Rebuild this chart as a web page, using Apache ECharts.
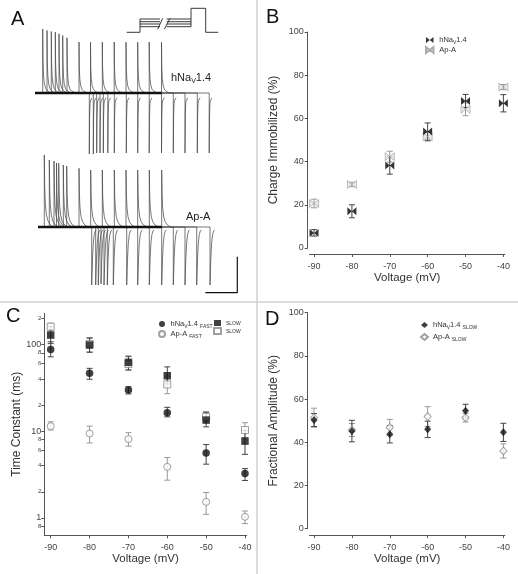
<!DOCTYPE html>
<html><head><meta charset="utf-8">
<script src="https://cdn.jsdelivr.net/npm/echarts@6/dist/echarts.min.js"></script>
<style>html,body{margin:0;padding:0;background:#fff}#c{width:518px;height:574px}</style>
</head><body><div id="c"></div>
<script>
// ---------------- DATA ----------------
// Panel A: gating-current traces (time units from trace start, current units; baseline = 0)
const navOnTimes  = [7.7, 12, 16.3, 20.3, 24, 27.7, 32, 44, 55.5, 67.3, 79.2, 91, 102.7, 114.2, 126.5];
const navOnPeaks  = [64, 62.5, 61.5, 60.8, 59.2, 57.5, 55.2, 51, 50.8, 50.8, 51, 50.8, 50.8, 51, 50.8];
const navOffTimes = [54.3, 58.3, 61.7, 65, 68.3, 72.8, 79.3, 91.3, 102.7, 114.2, 126.5, 138.3, 150, 162.3, 174.2];
const navOffPeaks = [-61, -61, -60, -60, -60, -60, -60, -60, -60, -60, -60, -60, -60, -60, -60];
const apaOnTimes  = [9.3, 14.3, 19, 21.5, 23.7, 28.3, 31.7, 44, 55.7, 67.3, 79.3, 91, 102.7, 114.3, 126.7];
const apaOnPeaks  = [72, 67, 66, 64, 63.7, 62, 61, 58.7, 57, 57, 57, 57, 57, 57, 57];
const apaOffTimes = [56.7, 60.7, 63.3, 66, 69, 72.3, 78.3, 91.7, 102.7, 114.3, 126.7, 138.3, 150, 161.7, 175];
const apaOffPeaks = [-58, -58, -58, -57, -58, -58, -58, -58, -58, -58, -58, -58, -58, -58, -58];
// decay shapes: [time after edge, fraction of peak]
const navOnShape  = [[0,1],[0.3,0.5],[0.8,0.28],[1.6,0.15],[3,0.07],[5,0.03],[8,0]];
const navOffShape = [[0,1],[0.3,0.4],[0.7,0.18],[1.1,0.13],[1.7,0.12],[2.7,0.08]];
const apaOnShape  = [[0,1],[0.4,0.55],[1,0.33],[2,0.18],[3.5,0.09],[6,0.03],[9,0]];
const apaOffShape = [[0,1],[0.8,0.55],[1.6,0.28],[2.6,0.13],[3.6,0.07],[4.6,0.05]];
const navTraceStart = 0, apaTraceStart = 3;
const scaleBarTime = 32, scaleBarCurrent = 36;
// voltage protocol inset
const protoHold = 0, protoPreLevels = [13.3, 10.6, 8.3, 5.6], protoTest = 24;
const protoTimes = [0, 13.3, 33.3, 40, 64.3, 79, 91.6];

// Panels B-D
const voltages = [-90, -80, -70, -60, -50, -40];
const voltTicks = [-90, -80, -70, -60, -50, -40];
// B: charge immobilized (%)
const chargeNav = [7.0, 17.0, 38.2, 53.9, 68.1, 67.0];
const chargeNavErr = [1.5, 3.0, 4.0, 4.0, 3.0, 4.0];
const chargeApA = [20.6, 29.4, 42.3, 51.5, 64.2, 74.5];
const chargeApAErr = [2.0, 1.0, 2.5, 2.0, 3.0, 1.2];
// C: time constants (ms)
const tauFastNav = [87.5, 46.3, 29.7, 16.3, 5.6, 3.25];
const tauFastNavLo = [71.8, 39.6, 26.8, 14.6, 4.16, 2.7];
const tauFastNavHi = [107, 52.9, 32.5, 18.8, 7.0, 3.7];
const tauFastApA = [11.4, 9.4, 8.1, 3.88, 1.53, 1.03];
const tauFastApALo = [10.3, 7.3, 6.7, 2.72, 1.1, 0.86];
const tauFastApAHi = [12.8, 11.4, 9.6, 4.97, 1.96, 1.2];
const tauSlowNav = [128, 98.2, 62, 43.5, 13.4, 7.67];
const tauSlowNavLo = [102, 81, 50.6, 35, 11.2, 5.4];
const tauSlowNavHi = [160, 119, 73.2, 55, 16.5, 10.2];
const tauSlowApA = [160, 101, 59.3, 34.5, 14.6, 10.3];
const tauSlowApALo = [144, 82, 50.6, 27, 12.8, 8.4];
const tauSlowApAHi = [175, 117, 72, 43, 16.7, 12.5];
const tauTickValues = [0.8, 1, 2, 4, 6, 8, 10, 20, 40, 60, 80, 100, 200];
const tauLabelText = ['8', '1', '2', '4', '6', '8', '10', '2', '4', '6', '8', '100', '2'];
const tauMajor = [1, 10, 100];
// D: fractional amplitude (%)
const ampNav = [50.3, 45.2, 43.7, 46.0, 54.6, 44.6];
const ampNavErr = [3.0, 5.0, 4.0, 3.8, 3.0, 4.2];
const ampApA = [51.4, 45.7, 46.9, 51.9, 51.4, 36.0];
const ampApAErr = [4.4, 3.0, 3.7, 4.6, 2.0, 3.3];

// ---------------- BUILD ----------------
const font = 'Liberation Sans, Arial, Helvetica, sans-serif';
const chart = echarts.init(document.getElementById('c'), null, {renderer: 'canvas'});

function buildTrace(start, on, onPeak, onShape, off, offPeak, offShape) {
  const pts = [[start, 0], [on, 0]];
  onShape.forEach(([dt, f]) => pts.push([on + dt, onPeak * f]));
  pts.push([off, 0]);
  offShape.forEach(([dt, f]) => pts.push([off + dt, offPeak * f]));
  return pts;
}
const series = [];
function traceSeries(axis, start, onT, onP, onS, offT, offP, offS) {
  onT.forEach((t, i) => {
    series.push({type: 'line', xAxisIndex: axis, yAxisIndex: axis, symbol: 'none', silent: true,
      lineStyle: {width: 0.75, color: '#4a4a4a'},
      data: buildTrace(start, t, onP[i], onS, offT[i], offP[i], offS)});
  });
  series.push({type: 'line', xAxisIndex: axis, yAxisIndex: axis, symbol: 'none', silent: true, z: 3,
    lineStyle: {width: 2.4, color: '#111'},
    data: [[start, 0], [onT[onT.length - 1], 0]]});
}
traceSeries(0, navTraceStart, navOnTimes, navOnPeaks, navOnShape, navOffTimes, navOffPeaks, navOffShape);
traceSeries(1, apaTraceStart, apaOnTimes, apaOnPeaks, apaOnShape, apaOffTimes, apaOffPeaks, apaOffShape);
// scale bar (in Ap-A trace coordinates)
const sbX = 202.3, sbY = -65.7;
series.push({type: 'line', xAxisIndex: 1, yAxisIndex: 1, symbol: 'none', silent: true,
  lineStyle: {width: 1.2, color: '#111'},
  data: [[sbX - scaleBarTime, sbY], [sbX, sbY], [sbX, sbY + scaleBarCurrent]]});
// protocol
const pt = protoTimes;
const protoLines = [
  [[pt[0], protoHold], [pt[1], protoHold], [pt[1], protoPreLevels[0]]],
  [[pt[4], protoPreLevels[protoPreLevels.length - 1]], [pt[4], protoTest], [pt[5], protoTest], [pt[5], protoHold], [pt[6], protoHold]],
  [[31, 3], [36, 14]], [[37.6, 3], [43.3, 14]]
];
protoPreLevels.forEach(L => { protoLines.push([[pt[1], L], [pt[2], L]]); protoLines.push([[pt[3], L], [pt[4], L]]); });
protoLines.forEach(d => series.push({type: 'line', xAxisIndex: 2, yAxisIndex: 2, symbol: 'none', silent: true,
  lineStyle: {width: 0.9, color: '#222'}, data: d}));

function errSeries(axis, data, color) {
  return {type: 'custom', xAxisIndex: axis, yAxisIndex: axis, silent: true, z: 2,
    encode: {x: 0, y: [1, 2]}, data,
    renderItem(params, api) {
      const x = api.value(0);
      const a = api.coord([x, api.value(1)]), b = api.coord([x, api.value(2)]);
      const w = 3, st = {stroke: color, lineWidth: 1};
      return {type: 'group', children: [
        {type: 'line', shape: {x1: a[0], y1: a[1], x2: b[0], y2: b[1]}, style: st},
        {type: 'line', shape: {x1: a[0] - w, y1: a[1], x2: a[0] + w, y2: a[1]}, style: st},
        {type: 'line', shape: {x1: b[0] - w, y1: b[1], x2: b[0] + w, y2: b[1]}, style: st}
      ]};
    }};
}
const symErr = (v, e) => voltages.map((x, i) => [x, v[i] - e[i], v[i] + e[i]]);
const loHi = (lo, hi) => voltages.map((x, i) => [x, lo[i], hi[i]]);
const pts = v => voltages.map((x, i) => [x, v[i]]);
const bowtie = 'path://M0,0L5,4L0,8ZM10,0L5,4L10,8Z';

// B
series.push(errSeries(3, symErr(chargeApA, chargeApAErr), '#999'));
series.push(errSeries(3, symErr(chargeNav, chargeNavErr), '#444'));
series.push({type: 'scatter', name: 'Ap-A', xAxisIndex: 3, yAxisIndex: 3, z: 4, symbol: bowtie, symbolSize: [9, 8],
  itemStyle: {color: '#e6e6e6', borderColor: '#999', borderWidth: 0.8}, data: pts(chargeApA)});
series.push({type: 'scatter', name: 'hNaV1.4', xAxisIndex: 3, yAxisIndex: 3, z: 5, symbol: bowtie, symbolSize: [9, 8],
  itemStyle: {color: '#000'}, data: pts(chargeNav)});
// C
series.push(errSeries(4, loHi(tauSlowApALo, tauSlowApAHi), '#999'));
series.push(errSeries(4, loHi(tauFastApALo, tauFastApAHi), '#999'));
series.push(errSeries(4, loHi(tauSlowNavLo, tauSlowNavHi), '#444'));
series.push(errSeries(4, loHi(tauFastNavLo, tauFastNavHi), '#444'));
series.push({type: 'scatter', name: 'ApA SLOW', xAxisIndex: 4, yAxisIndex: 4, z: 4, symbol: 'rect', symbolSize: 7,
  itemStyle: {color: '#fff', borderColor: '#888', borderWidth: 1}, data: pts(tauSlowApA)});
series.push({type: 'scatter', name: 'ApA FAST', xAxisIndex: 4, yAxisIndex: 4, z: 4, symbol: 'circle', symbolSize: 7,
  itemStyle: {color: '#fff', borderColor: '#888', borderWidth: 1}, data: pts(tauFastApA)});
series.push({type: 'scatter', name: 'Nav SLOW', xAxisIndex: 4, yAxisIndex: 4, z: 5, symbol: 'rect', symbolSize: 7.5,
  itemStyle: {color: '#111'}, data: pts(tauSlowNav)});
series.push({type: 'scatter', name: 'Nav FAST', xAxisIndex: 4, yAxisIndex: 4, z: 5, symbol: 'circle', symbolSize: 7.5,
  itemStyle: {color: '#111'}, data: pts(tauFastNav)});
// D
series.push(errSeries(5, symErr(ampApA, ampApAErr), '#999'));
series.push(errSeries(5, symErr(ampNav, ampNavErr), '#444'));
series.push({type: 'scatter', name: 'ApA SLOW amp', xAxisIndex: 5, yAxisIndex: 5, z: 4, symbol: 'diamond', symbolSize: [7, 8],
  itemStyle: {color: '#fff', borderColor: '#888', borderWidth: 1}, data: pts(ampApA)});
series.push({type: 'scatter', name: 'Nav SLOW amp', xAxisIndex: 5, yAxisIndex: 5, z: 5, symbol: 'diamond', symbolSize: [7, 8],
  itemStyle: {color: '#111'}, data: pts(ampNav)});

// axes
const hiddenAxis = (g, min, max) => ({type: 'value', gridIndex: g, min, max, show: false});
const axCol = '#555';
function voltAxis(g, min, max, offset, nameGap) {
  return {type: 'value', gridIndex: g, min, max, offset, name: 'Voltage (mV)', nameLocation: 'middle', nameGap,
    nameTextStyle: {fontFamily: font, fontSize: 11.5, color: '#333'},
    axisLine: {show: true, onZero: false, lineStyle: {color: axCol, width: 1}},
    axisTick: {show: true, length: 3, customValues: voltTicks, lineStyle: {color: axCol}},
    axisLabel: {customValues: voltTicks, fontFamily: font, fontSize: 9, color: '#444', margin: 8},
    splitLine: {show: false}};
}
function pctAxis(g, name, offset, nameGap) {
  return {type: 'value', gridIndex: g, min: 0, max: 100, interval: 20, offset, name, nameLocation: 'middle', nameGap,
    nameTextStyle: {fontFamily: font, fontSize: 12, color: '#333'},
    axisLine: {show: true, onZero: false, lineStyle: {color: axCol, width: 1}},
    axisTick: {show: true, length: 3, lineStyle: {color: axCol}},
    axisLabel: {fontFamily: font, fontSize: 9, color: '#444', margin: 4},
    splitLine: {show: false}};
}
const xAxis = [
  hiddenAxis(0, 0, 205), hiddenAxis(1, 0, 205), hiddenAxis(2, 0, 95),
  voltAxis(3, -91.2, -39.6, 6, 18),
  voltAxis(4, -91.65, -39.56, 0, 17.5),
  voltAxis(5, -91.2, -39.6, 6.3, 16)
];
const yAxis = [
  hiddenAxis(0, -65, 70), hiddenAxis(1, -70, 75), hiddenAxis(2, -2.7, 27.3),
  pctAxis(3, 'Charge Immobilized (%)', 1.8, 28),
  {type: 'log', gridIndex: 4, min: 0.63, max: 228, logBase: 10, name: 'Time Constant (ms)', nameLocation: 'middle', nameGap: 22,
    nameTextStyle: {fontFamily: font, fontSize: 12, color: '#333'},
    axisLine: {show: true, onZero: false, lineStyle: {color: axCol, width: 1}},
    axisTick: {show: true, length: 3, customValues: tauTickValues, lineStyle: {color: axCol}},
    axisLabel: {customValues: tauTickValues, margin: 3,
      formatter: v => {
        const i = tauTickValues.findIndex(t => Math.abs(t - v) / t < 1e-6);
        const txt = i >= 0 ? tauLabelText[i] : '';
        return tauMajor.some(m => Math.abs(m - v) / m < 1e-6) ? '{M|' + txt + '}' : '{m|' + txt + '}';
      },
      rich: {M: {fontFamily: font, fontSize: 9, color: '#444'}, m: {fontFamily: font, fontSize: 6, color: '#444'}}},
    splitLine: {show: false}, minorTick: {show: false}},
  pctAxis(5, 'Fractional Amplitude (%)', 1.8, 28)
];
const grid = [
  {left: 35, top: 23, width: 205, height: 135},
  {left: 35, top: 152, width: 205, height: 145},
  {left: 126.7, top: 5, width: 95, height: 30},
  {left: 309.5, top: 32, width: 195.4, height: 216},
  {left: 44.3, top: 313.3, width: 202.4, height: 222},
  {left: 309.5, top: 312.7, width: 195.4, height: 216}
];
const legTxt = {fontFamily: font, fontSize: 7.5, color: '#333'};
const legRich = {t: {fontFamily: font, fontSize: 7.5, color: '#333', lineHeight: 10},
  s: {fontFamily: font, fontSize: 5, color: '#333', lineHeight: 6, verticalAlign: 'bottom'}};
const legNames = {
  'hNaV1.4': '{t|hNa}{s|V}{t|1.4}', 'Ap-A': '{t|Ap-A}',
  'Nav FAST': '{t|hNa}{s|V}{t|1.4 }{s|FAST}', 'ApA FAST': '{t|Ap-A }{s|FAST}',
  'Nav SLOW': '{s|SLOW}', 'ApA SLOW': '{s|SLOW}',
  'Nav SLOW amp': '{t|hNa}{s|V}{t|1.4 }{s|SLOW}', 'ApA SLOW amp': '{t|Ap-A }{s|SLOW}'
};
function leg(data, left, top, extra) {
  return Object.assign({data, left, top, orient: 'vertical', itemWidth: 7, itemHeight: 6, itemGap: 1, selectedMode: false,
    padding: 0, formatter: n => legNames[n], textStyle: Object.assign({rich: legRich}, legTxt)}, extra || {});
}
const legend = [
  leg(['hNaV1.4', 'Ap-A'], 425, 36, {itemWidth: 9}),
  leg(['Nav FAST', 'ApA FAST'], 158, 320),
  leg(['Nav SLOW', 'ApA SLOW'], 213, 320, {itemGap: 1}),
  leg(['Nav SLOW amp', 'ApA SLOW amp'], 420, 321, {itemGap: 3})
];
const letter = (t, x, y) => ({type: 'text', left: x, top: y, silent: true,
  style: {text: t, fontFamily: font, fontSize: 20, fill: '#111'}});
const graphic = [
  {type: 'line', silent: true, shape: {x1: 257, y1: 0, x2: 257, y2: 574}, style: {stroke: '#cfcfcf', lineWidth: 1.5}},
  {type: 'line', silent: true, shape: {x1: 0, y1: 302, x2: 518, y2: 302}, style: {stroke: '#cfcfcf', lineWidth: 1.5}},
  letter('A', 11, 9), letter('B', 266, 7), letter('C', 6, 306), letter('D', 265, 309),
  {type: 'text', left: 171, top: 72, silent: true, style: {text: '{t|hNa}{s|V}{t|1.4}',
    rich: {t: {fontFamily: font, fontSize: 11, fill: '#222', lineHeight: 14}, s: {fontFamily: font, fontSize: 7, fill: '#222', lineHeight: 8, verticalAlign: 'bottom'}}}},
  {type: 'text', left: 186, top: 211, silent: true, style: {text: 'Ap-A', fontFamily: font, fontSize: 11, fill: '#222'}}
];
chart.setOption({animation: false, backgroundColor: '#fff', grid, xAxis, yAxis, series, legend, graphic});
</script></body></html>
